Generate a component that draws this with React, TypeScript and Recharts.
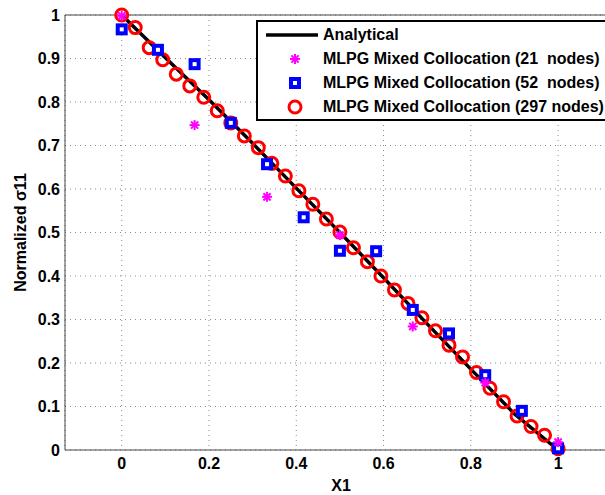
import {
  ScatterChart,
  Scatter,
  XAxis,
  YAxis,
  CartesianGrid,
  ReferenceLine,
  Legend,
} from "recharts";

const FONT = "'Liberation Sans', Arial, Helvetica, sans-serif";

// analytical solution
const analyticalX = [0, 0.1, 0.2, 0.3, 0.4, 0.5, 0.6, 0.7, 0.8, 0.9, 1];
const analyticalY = [1, 0.902, 0.805, 0.705, 0.602, 0.5, 0.396, 0.29, 0.186, 0.083, 0];

// 21 nodes
const starX = [0, 0.167, 0.333, 0.5, 0.667, 0.833, 1];
const starY = [0.998, 0.747, 0.582, 0.494, 0.284, 0.155, 0.018];

// 52 nodes
const squareX = [0, 0.083, 0.167, 0.25, 0.333, 0.417, 0.5, 0.583, 0.667, 0.75, 0.833, 0.917, 1];
const squareY = [0.967, 0.92, 0.887, 0.752, 0.657, 0.535, 0.458, 0.457, 0.322, 0.268, 0.172, 0.09, 0.004];

// 297 nodes
const circleX = [
  0, 0.031, 0.063, 0.094, 0.125, 0.156, 0.188, 0.219, 0.25, 0.281, 0.313, 0.344, 0.375, 0.406, 0.438, 0.469,
  0.5, 0.531, 0.563, 0.594, 0.625, 0.656, 0.688, 0.719, 0.75, 0.781, 0.813, 0.844, 0.875, 0.906, 0.938, 0.969, 1,
];
const circleY = [
  1.0, 0.971, 0.925, 0.897, 0.864, 0.837, 0.811, 0.78, 0.752, 0.722, 0.695, 0.659, 0.63, 0.596, 0.565, 0.531,
  0.501, 0.465, 0.433, 0.4, 0.368, 0.337, 0.304, 0.274, 0.241, 0.214, 0.178, 0.142, 0.111, 0.078, 0.054, 0.034, 0.003,
];

const xTicks = [0, 0.2, 0.4, 0.6, 0.8, 1];
const yTicks = [0, 0.1, 0.2, 0.3, 0.4, 0.5, 0.6, 0.7, 0.8, 0.9, 1];

const seriesNames = [
  "Analytical",
  "MLPG Mixed Collocation (21  nodes)",
  "MLPG Mixed Collocation (52  nodes)",
  "MLPG Mixed Collocation (297 nodes)",
];

const toPoints = (xs: number[], ys: number[]) => xs.map((x, i) => ({ x, y: ys[i] }));

const analytical = toPoints(analyticalX, analyticalY);
const stars = toPoints(starX, starY);
const squares = toPoints(squareX, squareY);
const circles = toPoints(circleX, circleY);

const Empty = () => <g />;

const Star = ({ cx, cy }: any) => (
  <g stroke="#ff00ff" strokeWidth={2}>
    <line x1={cx - 5} y1={cy} x2={cx + 5} y2={cy} />
    <line x1={cx} y1={cy - 5} x2={cx} y2={cy + 5} />
    <line x1={cx - 3.6} y1={cy - 3.6} x2={cx + 3.6} y2={cy + 3.6} />
    <line x1={cx - 3.6} y1={cy + 3.6} x2={cx + 3.6} y2={cy - 3.6} />
  </g>
);

const Square = ({ cx, cy }: any) => (
  <rect x={cx - 4} y={cy - 4} width={8} height={8} fill="#fff" stroke="#0000ff" strokeWidth={4} />
);

const Ring = ({ cx, cy }: any) => (
  <circle cx={cx} cy={cy} r={6} fill="none" stroke="#ff0000" strokeWidth={3} />
);

const YLabel = ({ viewBox }: any) => {
  const cx = 20;
  const cy = viewBox.y + viewBox.height / 2;
  return (
    <text
      x={cx}
      y={cy}
      transform={`rotate(-90 ${cx} ${cy})`}
      textAnchor="middle"
      dominantBaseline="central"
      fontFamily={FONT}
      fontSize={16}
      fontWeight="bold"
      fill="#000"
    >
      Normalized σ11
    </text>
  );
};

const legendIcons = [
  <line key="a" x1={8} y1={12} x2={60} y2={12} stroke="#000" strokeWidth={3.5} />,
  <Star key="s" cx={37} cy={12} />,
  <Square key="q" cx={37} cy={12} />,
  <Ring key="r" cx={37} cy={12} />,
];

const LegendBox = () => (
  <div
    style={{
      border: "2px solid #000",
      background: "#fff",
      width: 370,
      paddingTop: 1,
      paddingBottom: 0,
      fontFamily: FONT,
      fontSize: 16,
      fontWeight: "bold",
      color: "#000",
    }}
  >
    {seriesNames.map((name, i) => (
      <div key={name} style={{ display: "flex", alignItems: "center", height: 24, whiteSpace: "pre" }}>
        <svg width={65} height={24} style={{ flex: "none" }}>
          {legendIcons[i]}
        </svg>
        <span>{name}</span>
      </div>
    ))}
  </div>
);

const tickStyle = { fill: "#000", fontSize: 16, fontWeight: "bold", fontFamily: FONT };

export default function App() {
  return (
    <div
      style={{
        position: "absolute",
        left: 0,
        top: 0,
        width: 605,
        height: 495,
        overflow: "hidden",
        background: "#fff",
      }}
    >
      <ScatterChart width={620} height={495} margin={{ top: 15, right: 3, bottom: 0, left: 0 }}>
        <CartesianGrid stroke="#8a8a8a" strokeDasharray="1 4" />
        <XAxis
          type="number"
          dataKey="x"
          domain={[-0.13, 1.135]}
          ticks={xTicks}
          height={45}
          tickLine={false}
          tickSize={0}
          tickMargin={8}
          stroke="#444"
          tick={tickStyle}
          label={{
            value: "X1",
            position: "insideBottom",
            offset: 4,
            fill: "#000",
            fontSize: 16,
            fontWeight: "bold",
            fontFamily: FONT,
          }}
        />
        <YAxis
          type="number"
          dataKey="y"
          domain={[0, 1]}
          ticks={yTicks}
          width={65}
          tickLine={false}
          tickSize={0}
          tickMargin={5}
          stroke="#444"
          tick={tickStyle}
          label={<YLabel />}
        />
        <ReferenceLine y={1} stroke="#444" />
        <Legend
          layout="horizontal"
          verticalAlign="middle"
          align="center"
          wrapperStyle={{ position: "absolute", left: 256, top: 20, width: 370 }}
          content={<LegendBox />}
        />
        <Scatter
          name={seriesNames[0]}
          data={analytical}
          line={{ stroke: "#000", strokeWidth: 3.5 }}
          shape={<Empty />}
          isAnimationActive={false}
        />
        <Scatter name={seriesNames[3]} data={circles} shape={<Ring />} isAnimationActive={false} />
        <Scatter name={seriesNames[2]} data={squares} shape={<Square />} isAnimationActive={false} />
        <Scatter name={seriesNames[1]} data={stars} shape={<Star />} isAnimationActive={false} />
      </ScatterChart>
    </div>
  );
}
